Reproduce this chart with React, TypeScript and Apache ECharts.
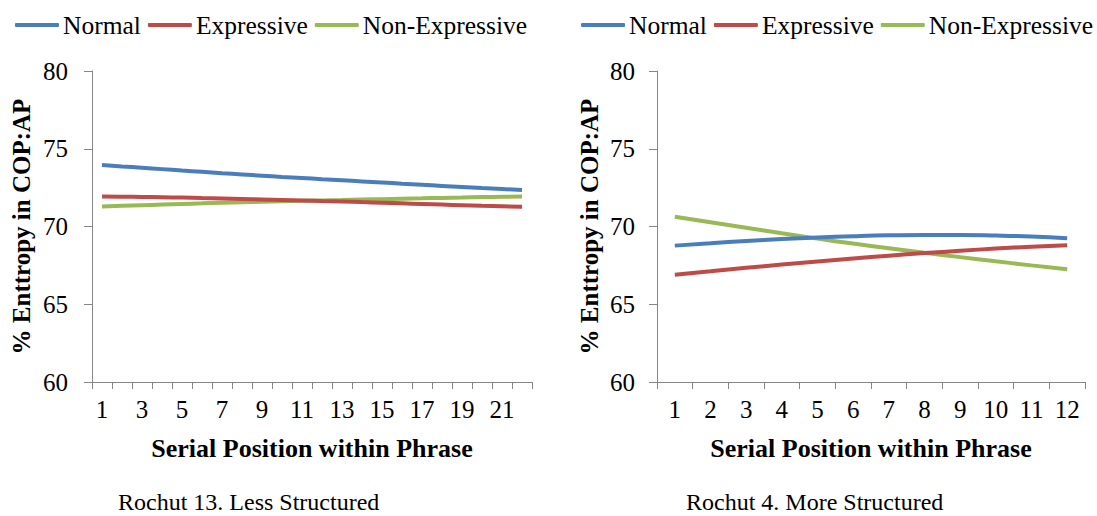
import React, { useEffect, useRef } from "react";
import * as echarts from "echarts";

const seriesNames = ["Normal", "Expressive", "Non-Expressive"];
const colors = ["#4A7EBB", "#BE4B48", "#98B954"];

const leftCategories = ["1","2","3","4","5","6","7","8","9","10","11","12","13","14","15","16","17","18","19","20","21","22"];
const leftNormal = [73.95,73.86,73.78,73.69,73.60,73.52,73.43,73.35,73.27,73.19,73.12,73.04,72.97,72.90,72.83,72.75,72.68,72.61,72.54,72.47,72.41,72.35];
const leftExpressive = [71.93,71.92,71.90,71.88,71.86,71.83,71.80,71.77,71.74,71.71,71.68,71.64,71.61,71.57,71.53,71.49,71.45,71.41,71.37,71.33,71.30,71.27];
const leftNonExpressive = [71.28,71.33,71.37,71.41,71.45,71.49,71.53,71.56,71.59,71.62,71.65,71.68,71.71,71.74,71.76,71.79,71.81,71.84,71.86,71.89,71.91,71.93];

const rightCategories = ["1","2","3","4","5","6","7","8","9","10","11","12"];
const rightNormal = [68.77,68.93,69.07,69.19,69.29,69.37,69.43,69.46,69.46,69.42,69.35,69.24];
const rightExpressive = [66.90,67.12,67.34,67.55,67.75,67.94,68.12,68.29,68.44,68.58,68.70,68.80];
const rightNonExpressive = [70.63,70.27,69.92,69.56,69.22,68.90,68.60,68.31,68.03,67.76,67.50,67.25];

const yTicks = { min: 60, max: 80, interval: 5 };
const xTitle = "Serial Position within Phrase";
const yTitle = "% Enttropy in COP:AP";
const captions = ["Rochut 13. Less Structured", "Rochut 4. More Structured"];

const FONT = "'Liberation Serif', 'Times New Roman', serif";
const AXIS_COLOR = "#868686";

export default function App() {
  const ref = useRef<HTMLDivElement>(null);
  useEffect(() => {
    if (!ref.current) return;
    const chart = echarts.init(ref.current, null, { renderer: "svg" });
    const grids = [
      { left: 92, top: 71, width: 440, height: 311 },
      { left: 657, top: 71, width: 428, height: 311 },
    ];
    const cats = [leftCategories, rightCategories];
    const data = [
      [leftNormal, leftExpressive, leftNonExpressive],
      [rightNormal, rightExpressive, rightNonExpressive],
    ];
    const xAxes = cats.map((c, i) => ({
      type: "category",
      gridIndex: i,
      data: c,
      boundaryGap: true,
      axisLine: { lineStyle: { color: AXIS_COLOR, width: 1 } },
      axisTick: { show: true, interval: 0, length: 7, lineStyle: { color: AXIS_COLOR } },
      axisLabel: {
        interval: i === 0 ? 1 : 0,
        color: "#000",
        fontFamily: FONT,
        fontSize: 25,
        margin: 15,
      },
      name: xTitle,
      nameLocation: "middle",
      nameGap: 53,
      nameTextStyle: { fontFamily: FONT, fontSize: 26, fontWeight: "bold", color: "#000" },
      splitLine: { show: false },
    }));
    const yAxes = [0, 1].map((i) => ({
      type: "value",
      gridIndex: i,
      min: yTicks.min,
      max: yTicks.max,
      interval: yTicks.interval,
      axisLine: { show: true, lineStyle: { color: AXIS_COLOR, width: 1 } },
      axisTick: { show: true, length: 8, lineStyle: { color: AXIS_COLOR } },
      axisLabel: { color: "#000", fontFamily: FONT, fontSize: 25, margin: i === 0 ? 24 : 22 },
      splitLine: { show: false },
      name: yTitle,
      nameLocation: "middle",
      nameGap: i === 0 ? 58 : 55,
      nameRotate: 90,
      nameTextStyle: { fontFamily: FONT, fontSize: 25, fontWeight: "bold", color: "#000" },
    }));
    const series: any[] = [];
    for (let g = 0; g < 2; g++) {
      for (let s = 0; s < 3; s++) {
        series.push({
          type: "line",
          name: seriesNames[s],
          xAxisIndex: g,
          yAxisIndex: g,
          data: data[g][s],
          smooth: true,
          symbol: "none",
          lineStyle: { color: colors[s], width: 4 },
          itemStyle: { color: colors[s] },
          z: 3 - s,
        });
      }
    }
    const legendBase = {
      data: seriesNames,
      icon: "roundRect",
      itemWidth: 44,
      itemHeight: 4,
      itemGap: 7,
      padding: 0,
      textStyle: { fontFamily: FONT, fontSize: 25.5, color: "#000", padding: [0, 0, 0, -1] },
      top: 12,
    };
    chart.setOption({
      animation: false,
      backgroundColor: "#fff",
      legend: [
        { ...legendBase, left: 15 },
        { ...legendBase, left: 581 },
      ],
      grid: grids,
      xAxis: xAxes,
      yAxis: yAxes,
      series,
      graphic: [
        {
          type: "text",
          left: 118,
          top: 490,
          style: { text: captions[0], font: `24px ${FONT}`, fill: "#000" },
        },
        {
          type: "text",
          left: 686,
          top: 490,
          style: { text: captions[1], font: `24px ${FONT}`, fill: "#000" },
        },
      ],
    });
    return () => chart.dispose();
  }, []);
  return (
    <div
      ref={ref}
      style={{ position: "fixed", left: 0, top: 0, width: 1097, height: 516, background: "#fff" }}
    />
  );
}
